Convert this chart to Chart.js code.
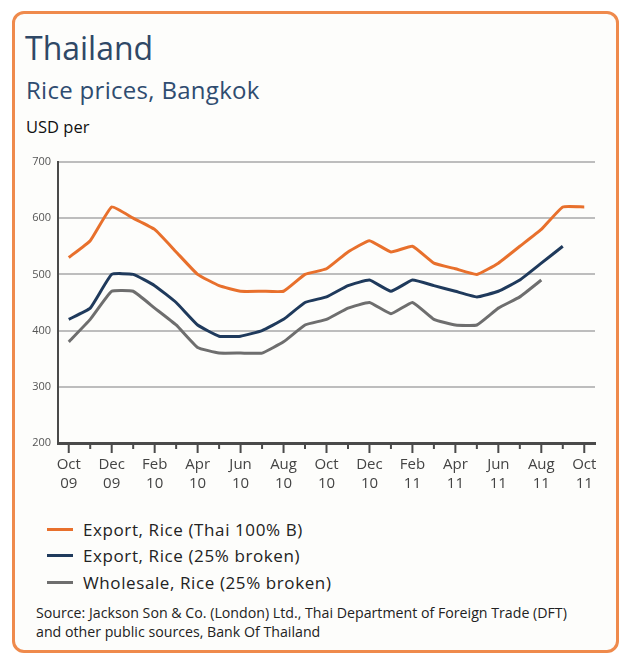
<!DOCTYPE html>
<html>
<head>
<meta charset="utf-8">
<script src="https://cdn.jsdelivr.net/npm/chart.js@4/dist/chart.umd.min.js"></script>
<style>
  body { margin: 0; background: #fff; font-family: "Open Sans", "Noto Sans", sans-serif; }
  #box {
    position: absolute; left: 12px; top: 11px; width: 601px; height: 636px;
    border: 3px solid #ef8a4c; border-radius: 12px; background: #fdfdfb;
  }
  .t { position: absolute; white-space: nowrap; }
  #title { left: 25px; top: 26px; font-size: 32px; color: #2f4866; }
  #sub { left: 26px; top: 73px; font-size: 24px; letter-spacing: 0.3px; color: #2f4c70; }
  #unit { left: 26px; top: 115px; font-size: 16.5px; color: #111; }
  #chartWrap { position: absolute; left: 0; top: 140px; width: 621px; height: 360px; }
  #legend { position: absolute; left: 47px; top: 516px; font-size: 17px; letter-spacing: 0.6px; color: #222; }
  #legend div { height: 26.5px; display: flex; align-items: center; }
  #legend span.sw { display: inline-block; width: 26px; height: 3px; margin-right: 10px; }
  #source { left: 36px; top: 603px; font-size: 14.2px; color: #222; line-height: 19px; }
</style>
</head>
<body>
<div id="box"></div>
<div class="t" id="title">Thailand</div>
<div class="t" id="sub">Rice prices, Bangkok</div>
<div class="t" id="unit">USD per</div>
<div id="chartWrap"><canvas id="myChart" width="621" height="360"></canvas></div>
<div id="legend"></div>
<div class="t" id="source">Source: Jackson Son &amp; Co. (London) Ltd., Thai Department of Foreign Trade (DFT)<br>and other public sources, Bank Of Thailand</div>
<script>
// 월별 라벨 (Oct 09 ~ Oct 11)
const months = ['Oct','Nov','Dec','Jan','Feb','Mar','Apr','May','Jun','Jul','Aug','Sep',
                'Oct','Nov','Dec','Jan','Feb','Mar','Apr','May','Jun','Jul','Aug','Sep','Oct'];
const years = ['09','09','09','10','10','10','10','10','10','10','10','10',
               '10','10','10','11','11','11','11','11','11','11','11','11','11'];

// 시리즈 값 (USD)
const exportThai100B = [530,560,620,600,580,540,500,480,470,470,470,500,
                        510,540,560,540,550,520,510,500,520,550,580,620,620];
const export25Broken = [420,440,500,500,480,450,410,390,390,400,420,450,
                        460,480,490,470,490,480,470,460,470,490,520,550];
const wholesale25Broken = [380,420,470,470,440,410,370,360,360,360,380,410,
                           420,440,450,430,450,420,410,410,440,460,490];

const yTicks = [200,300,400,500,600,700];

const seriesNames = ['Export, Rice (Thai 100% B)','Export, Rice (25% broken)','Wholesale, Rice (25% broken)'];
const seriesColors = ['#e8702c','#1f3a5c','#6e6e6e'];

// 2개월마다 라벨 표시
const labels = months.map((m, i) => (i % 2 === 0 ? [m, years[i]] : ''));

const datasets = [exportThai100B, export25Broken, wholesale25Broken].map((d, i) => ({
  label: seriesNames[i],
  data: d,
  borderColor: seriesColors[i],
  borderWidth: 3,
  pointRadius: 0,
  tension: 0.12,
  fill: false,
}));

// 범례 (HTML)
const legendEl = document.getElementById('legend');
datasets.forEach((ds) => {
  const row = document.createElement('div');
  row.innerHTML = '<span class="sw" style="background:' + ds.borderColor + '"></span>' + ds.label;
  legendEl.appendChild(row);
});

// x축 눈금 그리기 (짝수 달은 길게)
const tickMarks = {
  id: 'tickMarks',
  afterDraw: (chart) => {
    const ctx = chart.ctx;
    const xScale = chart.scales.x;
    const bottom = chart.chartArea.bottom;
    ctx.save();
    ctx.strokeStyle = '#4a4a4a';
    ctx.lineWidth = 2;
    months.forEach((m, i) => {
      const x = xScale.getPixelForValue(i);
      ctx.beginPath();
      ctx.moveTo(x, bottom);
      ctx.lineTo(x, bottom + (i % 2 === 0 ? 10 : 6));
      ctx.stroke();
    });
    ctx.restore();
  }
};

new Chart(document.getElementById('myChart').getContext('2d'), {
  type: 'line',
  data: { labels: labels, datasets: datasets },
  options: {
    responsive: false,
    animation: false,
    layout: { padding: { left: 0, right: 26, top: 22, bottom: 0 } },
    plugins: { legend: { display: false }, tooltip: { enabled: false } },
    scales: {
      x: {
        offset: true,
        grid: { display: true, drawOnChartArea: false, drawTicks: false, offset: false },
        border: { display: true, color: '#4a4a4a', width: 3 },
        ticks: {
          autoSkip: false, maxRotation: 0, padding: 13,
          color: '#444', font: { family: 'Open Sans', size: 15, lineHeight: 1.22 },
        },
        afterFit: (scale) => { scale.height = 57; },
      },
      y: {
        min: 200, max: 700,
        afterBuildTicks: (scale) => { scale.ticks = yTicks.map((v) => ({ value: v })); },
        grid: { color: '#bdbdbd', lineWidth: 2, drawTicks: false },
        border: { display: true, color: '#4a4a4a', width: 2 },
        ticks: { padding: 7, color: '#555', font: { family: 'Open Sans', size: 11 } },
        afterFit: (scale) => { scale.width = 58; },
      },
    },
  },
  plugins: [tickMarks],
});
</script>
</body>
</html>
